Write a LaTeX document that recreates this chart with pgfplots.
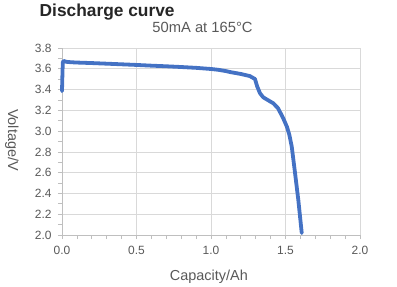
\documentclass[border=0pt]{standalone}
\usepackage{pgfplots}
\pgfplotsset{compat=1.18}
\usepackage{fontspec}
\setmainfont{Liberation Sans}
\definecolor{curve}{RGB}{68,114,196}
\definecolor{txt}{RGB}{89,89,89}
\definecolor{gridc}{RGB}{217,217,217}
\definecolor{axc}{RGB}{191,191,191}
\definecolor{ttl}{RGB}{38,38,38}
\begin{document}
\begin{tikzpicture}[x=1bp,y=1bp]
\useasboundingbox (0,0) rectangle (397,287);
\node[anchor=base west, text=ttl, font=\bfseries\fontsize{17.4}{17.4}\selectfont, inner sep=0pt] at (39.5,270.3) {Discharge curve};
\node[anchor=base, text=txt, font=\fontsize{14.8}{14.8}\selectfont, inner sep=0pt] at (202.5,254.7) {50mA at 165°C};
\begin{axis}[
  at={(62bp,52bp)}, anchor=south west,
  scale only axis, width=298bp, height=187bp,
  xmin=0, xmax=2, ymin=2, ymax=3.8,
  xtick={0,0.5,1,1.5,2}, ytick={2,2.2,2.4,2.6,2.8,3.0,3.2,3.4,3.6,3.8},
  minor x tick num=4, minor y tick num=1,
  grid=major, major grid style={gridc, line width=0.75bp},
  axis x line*=bottom, axis y line*=left,
  axis line style={-, axc, line width=0.75bp},
  tick align=outside, major tick length=4bp, minor tick length=4bp,
  every tick/.style={axc, line width=0.75bp},
  every minor tick/.style={axc, line width=0.75bp},
  xtick pos=bottom, ytick pos=left,
  tick label style={font=\fontsize{12}{12}\selectfont, text=txt},
  xticklabel style={yshift=-4bp},
  yticklabel style={xshift=-3bp},
  /pgf/number format/assume math mode=true,
  /pgf/number format/.cd, fixed, fixed zerofill, precision=1, /pgfplots/.cd,
  xlabel={Capacity/Ah}, ylabel={Voltage/V},
  label style={font=\fontsize{14.5}{14.5}\selectfont, text=txt},
  xlabel style={at={(axis description cs:0.493,-0.225)}, anchor=center},
  ylabel style={at={(axis description cs:-0.168,0.508)}, anchor=center, rotate=180},
  clip=false,
]
\addplot[curve, line width=3.8bp, line join=round, line cap=round] coordinates {
(0.000,3.385)
(0.002,3.50)
(0.004,3.60)
(0.006,3.665)
(0.012,3.675)
(0.03,3.667)
(0.06,3.663)
(0.1,3.660)
(0.2,3.655)
(0.3,3.649)
(0.4,3.643)
(0.5,3.637)
(0.6,3.630)
(0.7,3.624)
(0.8,3.617)
(0.9,3.609)
(1.0,3.598)
(1.05,3.590)
(1.1,3.578)
(1.13,3.568)
(1.2,3.550)
(1.26,3.530)
(1.295,3.502)
(1.31,3.43)
(1.329,3.364)
(1.351,3.325)
(1.38,3.30)
(1.418,3.268)
(1.45,3.22)
(1.485,3.123)
(1.51,3.04)
(1.526,2.963)
(1.542,2.850)
(1.564,2.597)
(1.586,2.337)
(1.609,2.019)
};
\end{axis}
\end{tikzpicture}
\end{document}
